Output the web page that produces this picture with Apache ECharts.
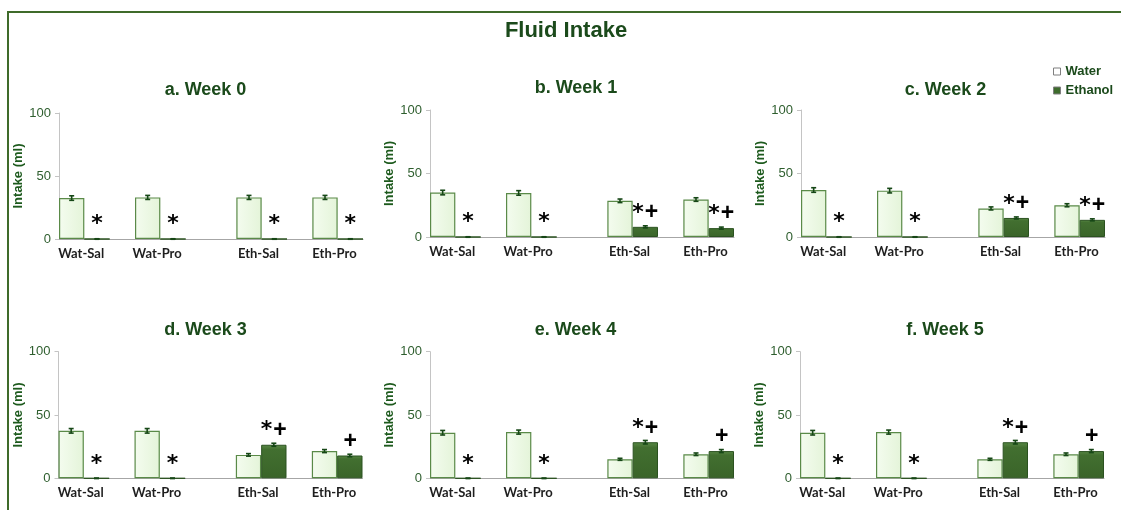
<!DOCTYPE html>
<html><head><meta charset="utf-8">
<script src="https://cdn.jsdelivr.net/npm/echarts@6/dist/echarts.min.js"></script>
<style>html,body{margin:0;padding:0;background:#fff}#c{width:1121px;height:510px}</style>
</head><body><div id="c"></div>
<script>
// ---------------- data ----------------
const mainTitle = 'Fluid Intake';
const groups = ['Wat-Sal', 'Wat-Pro', 'Eth-Sal', 'Eth-Pro'];
const panelTitles = ['a. Week 0', 'b. Week 1', 'c. Week 2', 'd. Week 3', 'e. Week 4', 'f. Week 5'];
const seriesNames = ['Water', 'Ethanol'];
const yTicks = [0, 50, 100];
const yName = 'Intake (ml)';

const water0 = [32.5, 33, 33, 33];
const water1 = [35, 34.7, 28.5, 29.5];
const water2 = [37, 36.5, 22.5, 25];
const water3 = [37.5, 37.5, 18.5, 21.5];
const water4 = [36, 36.5, 15, 19];
const water5 = [36, 36.5, 15, 19];

const ethanol0 = [0, 0, 0, 0];
const ethanol1 = [0, 0, 8, 7];
const ethanol2 = [0, 0, 15, 13.5];
const ethanol3 = [0, 0, 26.5, 18];
const ethanol4 = [0, 0, 28.5, 21.5];
const ethanol5 = [0, 0, 28.5, 21.5];

const waterErr0 = [1.8, 1.6, 1.6, 1.6];
const waterErr1 = [1.8, 1.8, 1.4, 1.4];
const waterErr2 = [1.8, 1.8, 1.2, 1.2];
const waterErr3 = [1.8, 1.8, 1.0, 1.2];
const waterErr4 = [1.8, 1.6, 0.8, 1.0];
const waterErr5 = [1.8, 1.6, 0.8, 1.0];

const ethanolErr0 = [0.2, 0.2, 0.2, 0.2];
const ethanolErr1 = [0.2, 0.2, 0.8, 0.8];
const ethanolErr2 = [0.2, 0.2, 0.8, 0.8];
const ethanolErr3 = [0.2, 0.2, 1.2, 1.0];
const ethanolErr4 = [0.2, 0.2, 1.4, 1.2];
const ethanolErr5 = [0.2, 0.2, 1.4, 1.2];

const sig0 = ['*', '*', '*', '*'];
const sig1 = ['*', '*', '*+', '*+'];
const sig2 = ['*', '*', '*+', '*+'];
const sig3 = ['*', '*', '*+', '+'];
const sig4 = ['*', '*', '*+', '+'];
const sig5 = ['*', '*', '*+', '+'];

// ---------------- layout / styles ----------------
const waters = [water0, water1, water2, water3, water4, water5];
const ethanols = [ethanol0, ethanol1, ethanol2, ethanol3, ethanol4, ethanol5];
const waterErrs = [waterErr0, waterErr1, waterErr2, waterErr3, waterErr4, waterErr5];
const ethanolErrs = [ethanolErr0, ethanolErr1, ethanolErr2, ethanolErr3, ethanolErr4, ethanolErr5];
const sigs = [sig0, sig1, sig2, sig3, sig4, sig5];

const PANELS = [
  {left: 59, top: 113, height: 126, tx: 205.5, ty: 91.5},
  {left: 430, top: 110, height: 127, tx: 576, ty: 89.5},
  {left: 801, top: 110, height: 127, tx: 945.5, ty: 91.5},
  {left: 58.5, top: 351.7, height: 126.6, tx: 205.5, ty: 331.7},
  {left: 430, top: 351.7, height: 126.6, tx: 575.5, ty: 331.7},
  {left: 800, top: 351.7, height: 126.6, tx: 945, ty: 331.7}
];
const GRID_W = 304;
const N_SLOTS = 12;
const GROUP_SLOT = [0, 3, 7, 10];   // water slot of each group; ethanol is the next slot
const slotKeys = Array.from({length: N_SLOTS}, (_, i) => 's' + i);
const slotGroup = new Array(N_SLOTS).fill(-1);
GROUP_SLOT.forEach((s, g) => { slotGroup[s] = g; slotGroup[s + 1] = g; });

function slotData(vals, offset) {
  const arr = new Array(N_SLOTS).fill('-');
  GROUP_SLOT.forEach((s, g) => { arr[s + offset] = vals[g]; });
  return arr;
}
function sigRich(str) {
  return str.split('').map(ch => ch === '*' ? '{s|*}' : '{p|+}').join('');
}

const DARK = '#1b4a1b';
const FONT = 'Liberation Sans, Arial, sans-serif';
const ERR_COLOR = '#164716';

const chart = echarts.init(document.getElementById('c'));

const titles = [{
  text: mainTitle, left: 566, top: 20, textAlign: 'center', padding: 0,
  textStyle: {fontFamily: FONT, fontSize: 22, fontWeight: 'bold', color: DARK}
}];
const grids = [], xAxes = [], yAxes = [], series = [];

PANELS.forEach((p, i) => {
  titles.push({
    text: panelTitles[i], left: p.tx, top: p.ty - 10.5, textAlign: 'center', padding: 0,
    textStyle: {fontFamily: FONT, fontSize: 18, fontWeight: 'bold', color: DARK}
  });
  grids.push({left: p.left, top: p.top, width: GRID_W, height: p.height, containLabel: false});
  xAxes.push({
    type: 'category', gridIndex: i, data: slotKeys, boundaryGap: true,
    axisLine: {lineStyle: {color: '#a6a6a6', width: 1}},
    axisTick: {show: false},
    axisLabel: {
      interval: (idx) => GROUP_SLOT.indexOf(idx) >= 0,
      formatter: (v, idx) => groups[slotGroup[idx]],
      padding: [0, 0, 0, 19], margin: 8,
      fontFamily: 'Lato, sans-serif', fontWeight: 'bold', fontSize: 13, color: '#1e1e1e'
    },
    splitLine: {show: false}
  });
  yAxes.push({
    type: 'value', gridIndex: i, min: yTicks[0], max: yTicks[yTicks.length - 1], interval: 50,
    name: yName, nameLocation: 'middle', nameGap: 33,
    nameTextStyle: {fontFamily: FONT, fontSize: 13, fontWeight: 'bold', color: '#1d5a1d'},
    axisLine: {show: true, lineStyle: {color: '#c4c4c4'}},
    axisTick: {show: true, length: 4, lineStyle: {color: '#c4c4c4'}},
    axisLabel: {fontFamily: FONT, fontSize: 13, color: '#2e5e2e', margin: 8},
    splitLine: {show: false}
  });
  series.push({
    name: seriesNames[0], type: 'bar', xAxisIndex: i, yAxisIndex: i,
    data: slotData(waters[i], 0), barGap: '-100%', barCategoryGap: '0%',
    itemStyle: {
      color: new echarts.graphic.LinearGradient(0, 0, 1, 0, [
        {offset: 0, color: '#f4fcef'}, {offset: 1, color: '#e4f4d9'}]),
      borderColor: '#5a8a48', borderWidth: 1.2
    },
    emphasis: {disabled: true}, z: 2
  });
  series.push({
    name: seriesNames[1], type: 'bar', xAxisIndex: i, yAxisIndex: i,
    data: slotData(ethanols[i], 1), barGap: '-100%', barCategoryGap: '0%',
    itemStyle: {
      color: new echarts.graphic.LinearGradient(0, 0, 0, 1, [
        {offset: 0, color: '#5a8a46'}, {offset: 0.15, color: '#426f30'}, {offset: 1, color: '#3a6429'}]),
      borderColor: '#2b5220', borderWidth: 1
    },
    label: {
      show: true, position: 'top', distance: 3,
      formatter: (prm) => sigRich(sigs[i][slotGroup[prm.dataIndex]]),
      rich: {
        s: {fontFamily: 'DejaVu Sans', fontSize: 22, fontWeight: 'bold', color: '#000', height: 22},
        p: {fontFamily: FONT, fontSize: 23, fontWeight: 'bold', color: '#000', height: 22, padding: [0, 0, 0, 1]}
      }
    },
    emphasis: {disabled: true}, z: 2
  });
  const errData = [];
  GROUP_SLOT.forEach((s, g) => {
    errData.push([s, waters[i][g], waterErrs[i][g]]);
    errData.push([s + 1, ethanols[i][g], ethanolErrs[i][g]]);
  });
  series.push({
    type: 'custom', xAxisIndex: i, yAxisIndex: i, data: errData,
    encode: {x: 0, y: 1}, z: 5, silent: true,
    renderItem: (params, api) => {
      const x = api.value(0), v = api.value(1), e = api.value(2);
      const hi = api.coord([x, v + e]);
      const lo = api.coord([x, v - e]);
      const cw = 2.5;
      const st = {stroke: ERR_COLOR, lineWidth: 1.6};
      return {type: 'group', children: [
        {type: 'line', shape: {x1: hi[0], y1: hi[1], x2: lo[0], y2: lo[1]}, style: st},
        {type: 'line', shape: {x1: hi[0] - cw, y1: hi[1], x2: hi[0] + cw, y2: hi[1]}, style: st},
        {type: 'line', shape: {x1: lo[0] - cw, y1: lo[1], x2: lo[0] + cw, y2: lo[1]}, style: st}
      ]};
    }
  });
});

chart.setOption({
  animation: false,
  backgroundColor: '#fff',
  title: titles,
  legend: {
    orient: 'vertical', left: 1048, top: 60, itemWidth: 7, itemHeight: 7, itemGap: 6,
    icon: 'rect', selectedMode: false,
    textStyle: {fontFamily: FONT, fontSize: 13, fontWeight: 'bold', color: DARK},
    data: [
      {name: seriesNames[0], itemStyle: {color: '#ffffff', borderColor: '#7f7f7f', borderWidth: 1}},
      {name: seriesNames[1], itemStyle: {color: '#3d6b2c', borderColor: '#7f7f7f', borderWidth: 1}}
    ]
  },
  grid: grids, xAxis: xAxes, yAxis: yAxes, series: series,
  graphic: [{
    type: 'rect', silent: true, z: 100,
    shape: {x: 8, y: 12, width: 1140, height: 540},
    style: {fill: null, stroke: '#3f6b2a', lineWidth: 2}
  }]
});
</script></body></html>
